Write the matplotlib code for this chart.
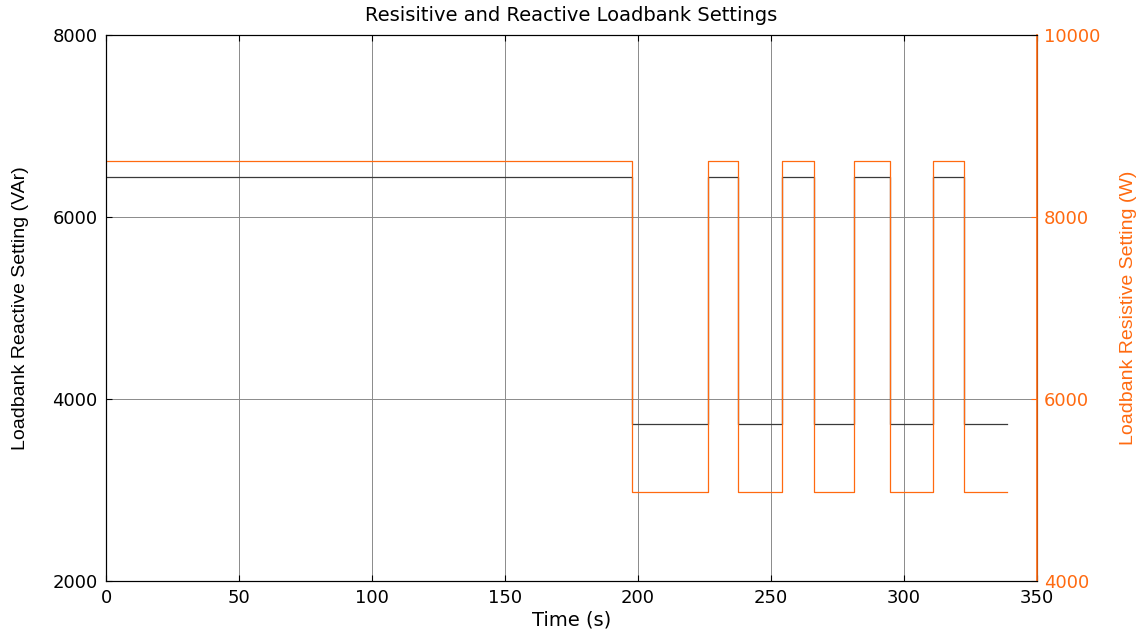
import matplotlib
matplotlib.use("Agg")
import matplotlib.pyplot as plt

plt.rcParams['font.family'] = ['DejaVu Sans']

# switching instants of the loadbank (s); last entry is end of the run
switch_times = [0, 197.7, 226.2, 237.7, 254.0, 266.3, 281.2, 294.8, 311.0, 322.7, 338.8]
# setting held from each switching instant until the next one
reactive_var = [6440, 3730, 6440, 3730, 6440, 3730, 6440, 3730, 6440, 3730, 3730]
resistive_w = [8610, 4980, 8610, 4980, 8610, 4980, 8610, 4980, 8610, 4980, 4980]

orange = '#FF6A10'
label_font = ['Liberation Sans', 'DejaVu Sans']

fig = plt.figure(figsize=(11.4, 6.32), dpi=100)
ax = fig.add_axes([0.093, 0.0807, 0.8166, 0.8639])

ax.step(switch_times, reactive_var, where='post', color='#3a3a3a', lw=0.9)
ax.set_xlim(0, 350)
ax.set_ylim(2000, 8000)
ax.set_xticks(range(0, 351, 50))
ax.set_yticks(range(2000, 8001, 2000))
ax.grid(True, color='#8a8a8a', lw=0.7)
ax.tick_params(direction='in', labelsize=13, length=4, top=True)
ax.tick_params(axis='x', pad=6)
ax.tick_params(axis='y', pad=6)
ax.set_xlabel('Time (s)', fontsize=14, labelpad=2)
ax.set_ylabel('Loadbank Reactive Setting (VAr)', fontsize=14,
              family=label_font, labelpad=17)
ax.set_title('Resisitive and Reactive Loadbank Settings', fontsize=14, pad=10)

ax2 = ax.twinx()
ax2.step(switch_times, resistive_w, where='post', color=orange, lw=0.9)
ax2.set_ylim(4000, 10000)
ax2.set_yticks(range(4000, 10001, 2000))
ax2.tick_params(direction='in', labelsize=13, length=4, colors=orange, pad=5)
ax2.spines['right'].set_color(orange)
ax2.spines['right'].set_linewidth(1.2)
ax2.set_ylabel('Loadbank Resistive Setting (W)', fontsize=14, color=orange,
               family=label_font, labelpad=14)

fig.savefig('out.png', dpi=100)
